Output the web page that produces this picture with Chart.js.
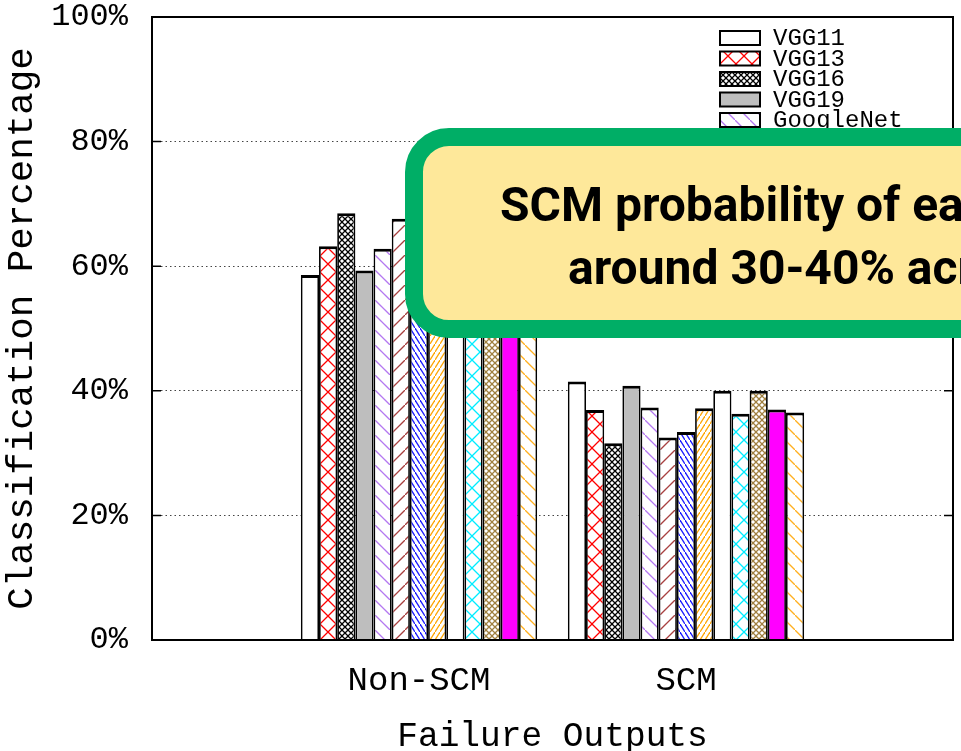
<!DOCTYPE html>
<html>
<head>
<meta charset="utf-8">
<script src="https://cdn.jsdelivr.net/npm/chart.js@4.4.1/dist/chart.umd.min.js"></script>
<style>
  html, body { margin: 0; padding: 0; background: #fff; overflow: hidden; width: 961px; height: 751px; }
  #wrap { position: absolute; left: 0; top: 0; width: 961px; height: 751px; }
  #note {
    position: absolute; left: 405px; top: 128px;
    width: 760px; height: 174px;
    border: 18px solid #00ae66; border-radius: 44px;
    background: #fee89a;
    font-family: Roboto, 'Noto Sans', sans-serif; font-weight: 700; font-size: 48px;
    color: #000; white-space: nowrap;
  }
  #note div { position: absolute; line-height: 63px; }
</style>
</head>
<body>
<div id="wrap"><canvas id="chart"></canvas></div>
<div id="note">
  <div style="left:77px; top:27px;">SCM probability of each model</div>
  <div style="left:145px; top:90px;">around 30-40% across models</div>
</div>
<script>
const categories = ['', 'Non-SCM', 'SCM', ''];
const models = ['VGG11', 'VGG13', 'VGG16', 'VGG19', 'GoogleNet', 'ResNet18', 'ResNet34',
                'ResNet50', 'ResNet101', 'ResNet152', 'DenseNet121', 'MobileNet', 'Inception'];
const nonScm = [58.6, 63.2, 68.5, 59.3, 62.8, 67.6, 66.6, 62.8, 60.0, 63.7, 60.0, 63.0, 63.5];
const scm    = [41.5, 36.9, 31.6, 40.8, 37.3, 32.5, 33.4, 37.2, 40.0, 36.3, 40.0, 37.0, 36.5];
const yTicks = [0, 20, 40, 60, 80, 100];

const mono = "'Liberation Mono', 'DejaVu Sans Mono', monospace";

// fill styles like gnuplot's patterns
const makePattern = (kind, color, w, h) => {
    if (kind === 'solid') return color;
    const c = document.createElement('canvas');
    c.width = w; c.height = h;
    const g = c.getContext('2d');
    g.fillStyle = '#fff';
    g.fillRect(0, 0, w, h);
    g.strokeStyle = color;
    g.lineWidth = 1.3;
    g.beginPath();
    if (kind === 'cross' || kind === 'back') {
        g.moveTo(-w, -h); g.lineTo(2 * w, 2 * h);
    }
    if (kind === 'cross' || kind === 'fwd') {
        g.moveTo(-w, 2 * h); g.lineTo(2 * w, -h);
    }
    g.stroke();
    return g.createPattern(c, 'repeat');
}

const fills = [
    makePattern('solid', '#ffffff'),
    makePattern('cross', '#ff0000', 16, 16),
    makePattern('cross', '#000000', 6, 6),
    makePattern('solid', '#bebebe'),
    makePattern('back', '#b478f0', 15, 15),
    makePattern('fwd', '#a84040', 15, 15),
    makePattern('back', '#1a1aff', 5, 8),
    makePattern('fwd', '#ffa500', 5, 8),
    makePattern('solid', '#ffffff'),
    makePattern('cross', '#00ecff', 16, 16),
    makePattern('cross', '#a08040', 6, 6),
    makePattern('solid', '#ff00ff'),
    makePattern('back', '#ffb020', 15, 15)
];

const datasets = models.map((m, i) => ({
    label: m,
    data: [null, nonScm[i], scm[i], null],
    backgroundColor: fills[i],
    borderColor: '#000',
    borderWidth: { top: 3, left: 1.75, right: 1.75, bottom: 0 },
    borderSkipped: false,
    categoryPercentage: 0.885,
    barPercentage: 1.0
}));

// frame, inner ticks and key, drawn like the gnuplot original
const framePlugin = {
    id: 'frame',
    afterDatasetsDraw(chart) {
        const { ctx, chartArea: a, scales } = chart;
        ctx.save();
        ctx.strokeStyle = '#000';
        ctx.lineWidth = 2;
        ctx.strokeRect(a.left, a.top, a.right - a.left, a.bottom - a.top);
        ctx.lineWidth = 1.5;
        ctx.beginPath();
        for (const t of yTicks) {
            const y = scales.y.getPixelForValue(t);
            ctx.moveTo(a.left, y); ctx.lineTo(a.left + 9, y);
            ctx.moveTo(a.right, y); ctx.lineTo(a.right - 9, y);
        }
        ctx.stroke();

        // key
        const bx = a.right - 233, rowH = 20.5, y0 = a.top + 21;
        ctx.font = '24px ' + mono;
        ctx.textBaseline = 'middle';
        chart.data.datasets.forEach((ds, i) => {
            const cy = y0 + i * rowH;
            ctx.fillStyle = ds.backgroundColor;
            ctx.fillRect(bx, cy - 7, 40, 14);
            ctx.lineWidth = 2;
            ctx.strokeRect(bx, cy - 7, 40, 14);
            ctx.fillStyle = '#000';
            ctx.fillText(ds.label, bx + 53, cy + 1);
        });
        ctx.restore();
    }
};

const ctx = document.querySelector('#chart').getContext('2d');
const chart = new Chart(ctx, {
    type: 'bar',
    data: { labels: categories, datasets: datasets },
    options: {
        responsive: true,
        maintainAspectRatio: false,
        devicePixelRatio: 1,
        animation: false,
        layout: { padding: { top: 17, right: 8, left: 0, bottom: 0 } },
        plugins: { legend: { display: false }, tooltip: { enabled: false } },
        scales: {
            x: {
                offset: false,
                grid: { display: false },
                border: { display: false },
                ticks: { color: '#000', font: { family: mono, size: 34 }, padding: 13, maxRotation: 0, autoSkip: false },
                title: { display: true, text: 'Failure Outputs', color: '#000', font: { family: mono, size: 34.5, lineHeight: 1 }, padding: { top: 0, bottom: -3 } },
                afterFit: (s) => { s.height = 111; s.paddingLeft = 0; s.paddingRight = 0; }
            },
            y: {
                min: 0, max: 100,
                afterBuildTicks: (s) => { s.ticks = yTicks.map(v => ({ value: v })); },
                grid: { color: '#444', lineWidth: 1, drawTicks: false },
                border: { display: false, dash: [1.5, 3] },
                ticks: { color: '#000', font: { family: mono, size: 32 }, padding: 24, callback: (v) => v + '%' },
                title: { display: true, text: 'Classification Percentage', color: '#000', font: { family: mono, size: 37.5, lineHeight: 1 }, padding: { top: 3, bottom: 0 } },
                afterFit: (s) => { s.width = 152; s.paddingTop = 0; s.paddingBottom = 0; }
            }
        }
    },
    plugins: [framePlugin]
});
</script>
</body>
</html>
